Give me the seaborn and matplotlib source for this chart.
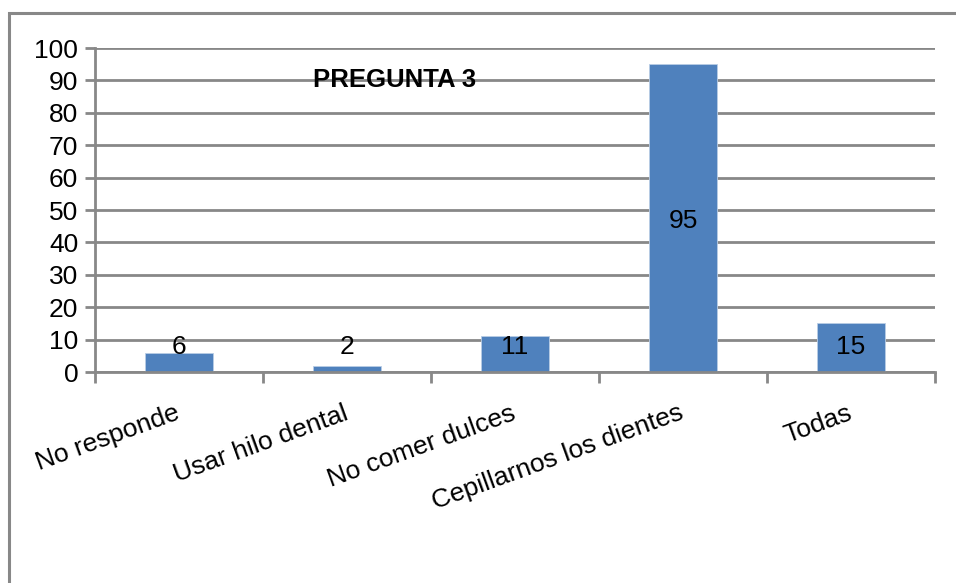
import matplotlib
matplotlib.use("Agg")
import matplotlib.pyplot as plt
from matplotlib.patches import Rectangle
import seaborn as sns
import pandas as pd

categorias = ["No responde", "Usar hilo dental", "No comer dulces",
              "Cepillarnos los dientes", "Todas"]
respuestas = [6, 2, 11, 95, 15]
titulo = "PREGUNTA 3"
y_ticks = [0, 10, 20, 30, 40, 50, 60, 70, 80, 90, 100]

sns.set_theme(style="white")
plt.rcParams["font.family"] = ["Liberation Sans", "DejaVu Sans"]

GRIS = "#888888"
AZUL = "#4F81BD"
FS = 19

df = pd.DataFrame({"categoria": categorias, "valor": respuestas})

fig = plt.figure(figsize=(9.56, 5.83), dpi=100)
fig.patch.set_facecolor("white")

# marco exterior del gráfico
fig.add_artist(Rectangle((9 / 956, -0.1), 1.2, 1.1 - 13 / 583,
                         transform=fig.transFigure, fill=False,
                         edgecolor=GRIS, linewidth=2.2))

ax = fig.add_axes([95 / 956, (583 - 372) / 583, 840 / 956, 324 / 583])
sns.barplot(data=df, x="categoria", y="valor", order=categorias,
            color=AZUL, width=0.4, saturation=1, ax=ax,
            edgecolor="#B9CDE5", linewidth=0.6, zorder=3)

ax.set_xlim(-0.5, len(categorias) - 0.5)
ax.set_ylim(0, 100)
ax.set_yticks(y_ticks)
ax.set_yticklabels([str(t) for t in y_ticks], fontsize=FS, color="black")
ax.set_xlabel("")
ax.set_ylabel("")

ax.yaxis.grid(True, color=GRIS, linewidth=2, zorder=0)
ax.set_axisbelow(True)
for s in ["top", "right"]:
    ax.spines[s].set_visible(False)
for s in ["left", "bottom"]:
    ax.spines[s].set_color(GRIS)
    ax.spines[s].set_linewidth(2)
    ax.spines[s].set_zorder(4)

ax.tick_params(axis="y", which="major", length=7, width=2, color=GRIS,
               left=True, pad=5)

# marcas entre categorías
ax.set_xticks([i - 0.5 for i in range(len(categorias) + 1)], minor=True)
ax.tick_params(axis="x", which="minor", length=8, width=2, color=GRIS,
               bottom=True)
ax.set_xticks(range(len(categorias)))
ax.set_xticklabels(categorias, rotation=20, ha="right", va="center",
                   rotation_mode="anchor", fontsize=FS, color="black")
ax.tick_params(axis="x", which="major", length=0, pad=29)

# etiquetas de valor
for i, v in enumerate(respuestas):
    ax.text(i, max(v / 2, 8.6), str(v), ha="center", va="center_baseline",
            fontsize=FS, color="black", zorder=5)

# título dentro del área de trazado
ax.text(0.357, 90.1, titulo, transform=ax.get_yaxis_transform(),
        ha="center", va="center", fontsize=18.5, fontweight="bold",
        color="black", zorder=5)

fig.savefig("out.png", dpi=100, facecolor="white")
